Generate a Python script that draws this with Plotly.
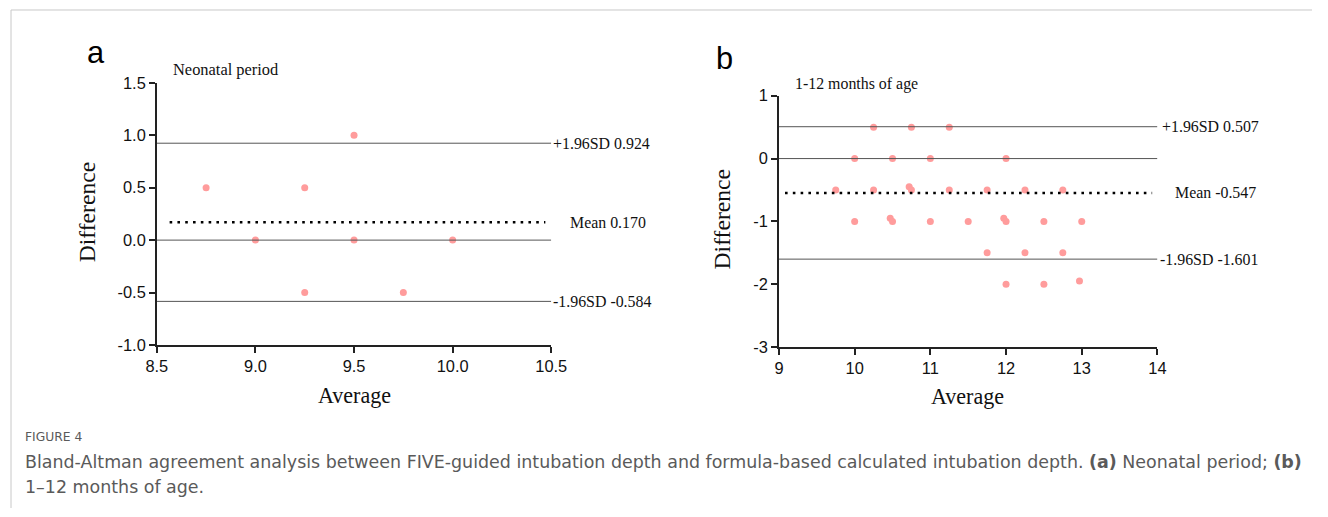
import plotly.graph_objects as go

W, H = 1328, 517

# ---- data: panel a (Neonatal period) ----
a_avg = [8.75, 9.25, 9.5, 9.0, 9.5, 10.0, 9.25, 9.75]
a_diff = [0.5, 0.5, 1.0, 0.0, 0.0, 0.0, -0.5, -0.5]
a_upper, a_mean, a_lower = 0.924, 0.170, -0.584
a_xrange = [8.5, 10.5]
a_yrange = [-1.0, 1.5]
a_xticks = [8.5, 9.0, 9.5, 10.0, 10.5]
a_yticks = [-1.0, -0.5, 0.0, 0.5, 1.0, 1.5]

# ---- data: panel b (1-12 months of age) ----
b_avg = [10.25, 10.75, 11.25,
         10.0, 10.5, 11.0, 12.0,
         9.75, 10.25, 10.72, 10.75, 11.25, 11.75, 12.25, 12.75,
         10.0, 10.47, 10.5, 11.0, 11.5, 11.97, 12.0, 12.5, 13.0,
         11.75, 12.25, 12.75,
         12.0, 12.5, 12.97]
b_diff = [0.5, 0.5, 0.5,
          0.0, 0.0, 0.0, 0.0,
          -0.5, -0.5, -0.45, -0.5, -0.5, -0.5, -0.5, -0.5,
          -1.0, -0.95, -1.0, -1.0, -1.0, -0.95, -1.0, -1.0, -1.0,
          -1.5, -1.5, -1.5,
          -2.0, -2.0, -1.95]
b_upper, b_mean, b_lower = 0.507, -0.547, -1.601
b_xrange = [9, 14]
b_yrange = [-3, 1]
b_xticks = [9, 10, 11, 12, 13, 14]
b_yticks = [-3, -2, -1, 0, 1]

PT = "#ff9c9c"
LINE = "#555555"
SERIF = "Liberation Serif, Times New Roman, serif"
SANS = "Liberation Sans, Arial, sans-serif"
CAPFONT = "DejaVu Sans, sans-serif"

# layout positions are given in target-picture pixels and mapped to paper fractions
SX, OX = 0.981, 10.0
SY, OY = 0.968, 8.0
FS = 1.026  # font scale

def px_x(p):
    return ((p - OX) / SX) / W

def px_y(p):
    return 1 - ((p - OY) / SY) / H

def fs(s):
    return round(s * FS, 2)

fig = go.Figure()

def add_panel(xa, ya, avg, diff, upper, mean, lower, xr, dot_x):
    fig.add_trace(go.Scatter(x=avg, y=diff, mode="markers", xaxis=xa, yaxis=ya,
                             marker=dict(color=PT, size=7), showlegend=False,
                             hoverinfo="x+y"))
    for val in (upper, lower):
        fig.add_trace(go.Scatter(x=xr, y=[val, val], mode="lines", xaxis=xa, yaxis=ya,
                                 line=dict(color=LINE, width=1), showlegend=False,
                                 hoverinfo="skip"))
    fig.add_trace(go.Scatter(x=xr, y=[0, 0], mode="lines", xaxis=xa, yaxis=ya,
                             line=dict(color=LINE, width=1), showlegend=False,
                             hoverinfo="skip"))
    fig.add_trace(go.Scatter(x=dot_x, y=[mean, mean], mode="lines", xaxis=xa, yaxis=ya,
                             line=dict(color="black", width=2.6, dash="2.6px,5.2px"),
                             showlegend=False, hoverinfo="skip"))

add_panel("x", "y", a_avg, a_diff, a_upper, a_mean, a_lower, a_xrange, [8.565, 10.47])
add_panel("x2", "y2", b_avg, b_diff, b_upper, b_mean, b_lower, b_xrange, [9.08, 13.93])

axis_common = dict(showline=True, linecolor="#222222", linewidth=1.5, ticks="outside",
                   ticklen=6, tickwidth=1.5, tickcolor="#222222", showgrid=False,
                   zeroline=False, tickfont=dict(family=SANS, size=fs(16), color="#111111"),
                   mirror=False)

fig.update_layout(
    autosize=True, margin=dict(l=0, r=0, t=0, b=0, pad=0),
    paper_bgcolor="white", plot_bgcolor="white",
    xaxis=dict(domain=[px_x(156), px_x(551)], range=a_xrange, tickvals=a_xticks,
               ticktext=[f"{v:.1f}" for v in a_xticks], anchor="y", **axis_common),
    yaxis=dict(domain=[px_y(345), px_y(82)], range=a_yrange, tickvals=a_yticks,
               ticktext=[f"{v:.1f}" for v in a_yticks], anchor="x", **axis_common),
    xaxis2=dict(domain=[px_x(779), px_x(1158)], range=b_xrange, tickvals=b_xticks,
                ticktext=[str(v) for v in b_xticks], anchor="y2", **axis_common),
    yaxis2=dict(domain=[px_y(347), px_y(95)], range=b_yrange, tickvals=b_yticks,
                ticktext=[str(v) for v in b_yticks], anchor="x2", **axis_common),
)

ann = []
def txt(text, x, y, size, family=SERIF, xanchor="left", yanchor="middle", xref="paper",
        yref="paper", color="#111111", angle=0):
    ann.append(dict(text=text, x=x, y=y, xref=xref, yref=yref, showarrow=False,
                    xanchor=xanchor, yanchor=yanchor, textangle=angle,
                    font=dict(family=family, size=fs(size), color=color)))

# panel a labels
txt("a", px_x(84), px_y(52), 30, family=SANS, color="black")
txt("Neonatal period", px_x(170), px_y(69), 16)
txt(f"+1.96SD {a_upper:.3f}", 10.5, a_upper, 15.5, xref="x", yref="y", xanchor="left")
txt(f"Mean {a_mean:.3f}", px_x(648), a_mean, 15.5, yref="y", xanchor="right")
txt(f"-1.96SD {a_lower:.3f}", 10.5, a_lower, 15.5, xref="x", yref="y", xanchor="left")
txt("Difference", px_x(87), px_y(212), 23, angle=-90, xanchor="center")
txt("Average", px_x(354), px_y(396), 21.5, xanchor="center")

# panel b labels
txt("b", px_x(714), px_y(58), 30, family=SANS, color="black")
txt("1-12 months of age", px_x(793), px_y(83), 15.5)
txt(f"+1.96SD {b_upper:.3f}", px_x(1161), b_upper, 15.5, yref="y2", xanchor="left")
txt(f"Mean {b_mean:.3f}", px_x(1259), b_mean, 15.5, yref="y2", xanchor="right")
txt(f"-1.96SD {b_lower:.3f}", px_x(1159), b_lower, 15.5, yref="y2", xanchor="left")
txt("Difference", px_x(722), px_y(219), 23, angle=-90, xanchor="center")
txt("Average", px_x(968), px_y(397), 21.5, xanchor="center")

# caption
CAP = "#5a5a5a"
txt("FIGURE 4", px_x(22), px_y(437), 12, family=CAPFONT, color=CAP)
txt("Bland-Altman agreement analysis between FIVE-guided intubation depth and "
    "formula-based calculated intubation depth. <b>(a)</b> Neonatal period; <b>(b)</b>",
    px_x(22), px_y(462), 17.0, family=CAPFONT, color=CAP)
txt("1–12 months of age.", px_x(22), px_y(487), 17.0, family=CAPFONT, color=CAP)

fig.update_layout(annotations=ann)

# frame border (top and left)
fig.add_shape(type="line", xref="paper", yref="paper", x0=px_x(10), x1=1.0,
              y0=px_y(9), y1=px_y(9), line=dict(color="#c8c8c8", width=1))
fig.add_shape(type="line", xref="paper", yref="paper", x0=px_x(10), x1=px_x(10),
              y0=px_y(9), y1=0, line=dict(color="#c8c8c8", width=1))

post = ("document.documentElement.style.margin='0';"
        "document.documentElement.style.padding='0';"
        "document.documentElement.style.overflow='hidden';"
        "document.body.style.margin='0';document.body.style.padding='0';"
        "document.body.style.overflow='hidden';")

fig.write_html("out.html", config={"displayModeBar": False},
               default_width="100vw", default_height="100vh", post_script=post)
